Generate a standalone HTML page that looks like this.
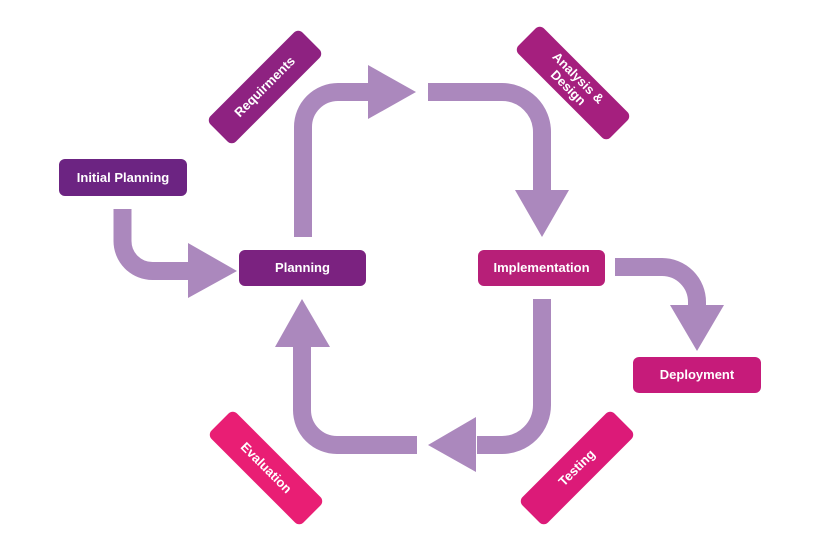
<!DOCTYPE html>
<html><head><meta charset="utf-8"><style>
html,body{margin:0;padding:0;background:#fff;}
body{width:820px;height:550px;position:relative;overflow:hidden;font-family:"Liberation Sans",sans-serif;}
.b{position:absolute;color:#fff;font-weight:bold;font-size:13px;display:flex;align-items:center;justify-content:center;border-radius:6px;text-align:center;line-height:14px;}
svg{position:absolute;left:0;top:0;}
</style></head><body>
<svg width="820" height="550">
<g fill="none" stroke="#ab88bd" stroke-width="18">
<path d="M122.5 209 V241 A30 30 0 0 0 152.5 271 H189"/>
<path d="M303 237 V127 A35 35 0 0 1 338 92 H369"/>
<path d="M428 92 H502 A40 40 0 0 1 542 132 V191"/>
<path d="M542 299 V405 A40 40 0 0 1 502 445 H477"/>
<path d="M417 445 H337 A35 35 0 0 1 302 410 V346"/>
<path d="M615 267 H662 A35 35 0 0 1 697 302 V306"/>
</g>
<g fill="#ab88bd">
<polygon points="188,243 188,298 237,271"/>
<polygon points="368,65 368,119 416,92"/>
<polygon points="515,190 569,190 542,237"/>
<polygon points="476,417 476,472 428,445"/>
<polygon points="275,347 330,347 302,299"/>
<polygon points="670,305 724,305 697,351"/>
</g>
</svg>
<div class="b" style="left:59px;top:159px;width:128px;height:37px;background:#6c2482;">Initial Planning</div>
<div class="b" style="left:239px;top:250px;width:127px;height:36px;background:#7b2280;">Planning</div>
<div class="b" style="left:478px;top:250px;width:127px;height:36px;background:#b71f78;">Implementation</div>
<div class="b" style="left:633px;top:357px;width:128px;height:36px;background:#c61b7a;">Deployment</div>
<div class="b" style="left:200px;top:69px;width:130px;height:36px;background:#8e2281;transform:rotate(-45deg);">Requirments</div>
<div class="b" style="left:508px;top:65px;width:130px;height:36px;background:#a51f7e;transform:rotate(45deg);">Analysis &amp;<br>Design</div>
<div class="b" style="left:201px;top:450px;width:130px;height:36px;background:#e91e74;transform:rotate(45deg);">Evaluation</div>
<div class="b" style="left:512px;top:450px;width:130px;height:36px;background:#dc1a78;transform:rotate(-45deg);">Testing</div>
</body></html>
